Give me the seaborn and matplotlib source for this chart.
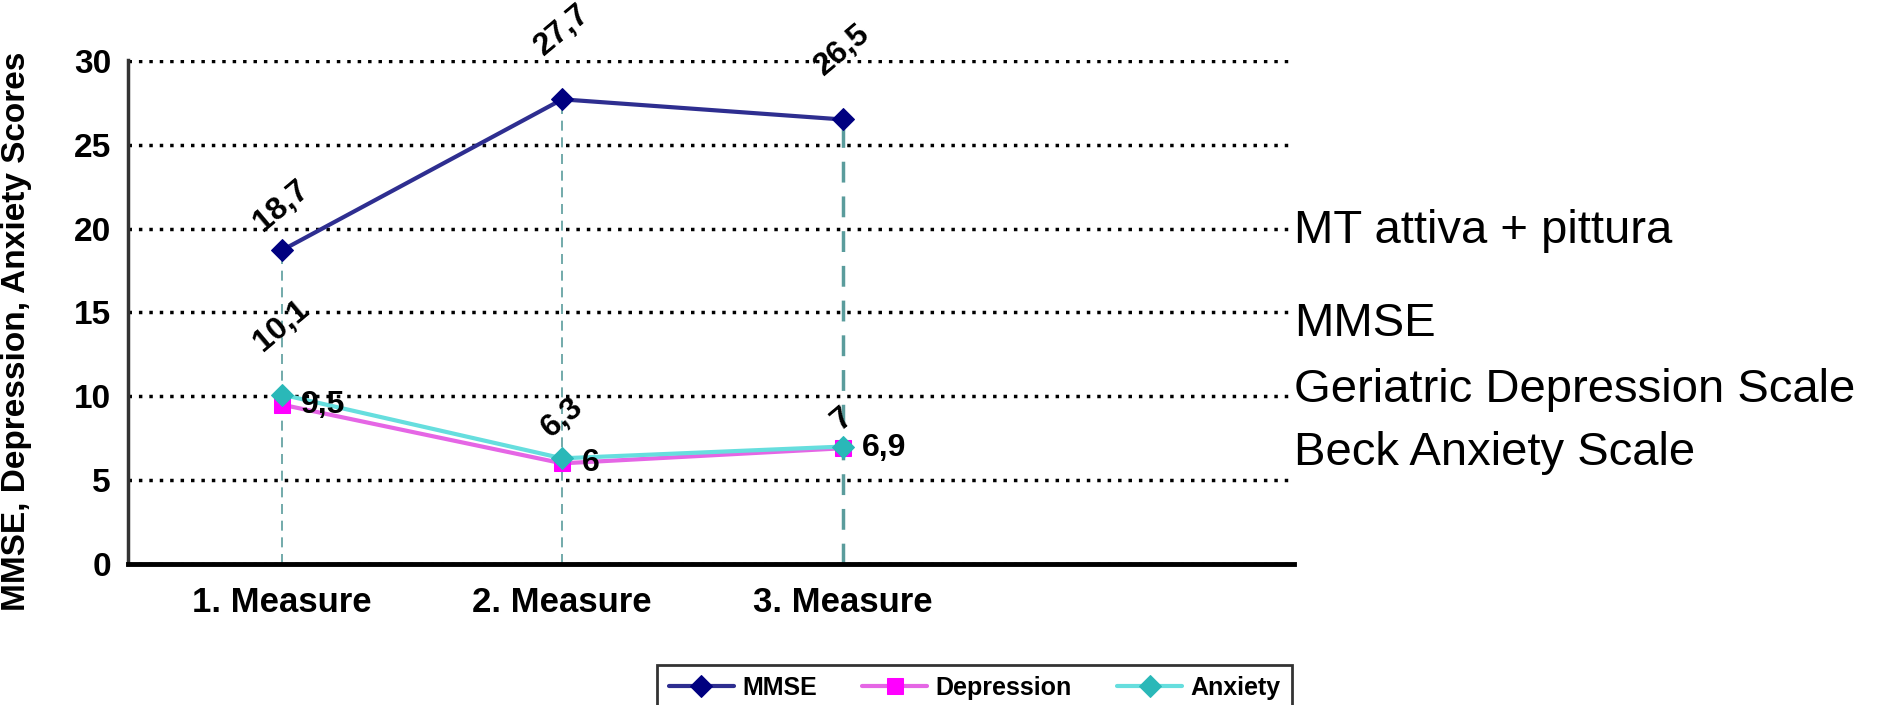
import numpy as np
import pandas as pd
import seaborn as sns
import matplotlib.pyplot as plt

measures = ['1. Measure', '2. Measure', '3. Measure']
mmse = [18.7, 27.7, 26.5]
depression = [9.5, 6, 6.9]
anxiety = [10.1, 6.3, 7]
mmse_labels = ['18,7', '27,7', '26,5']
depression_labels = ['9,5', '6', '6,9']
anxiety_labels = ['10,1', '6,3', '7']
side_lines = ['MT attiva + pittura', 'MMSE', 'Geriatric Depression Scale', 'Beck Anxiety Scale']

df = pd.DataFrame({
    'measure': measures * 3,
    'score': mmse + depression + anxiety,
    'scale': ['MMSE'] * 3 + ['Depression'] * 3 + ['Anxiety'] * 3,
})

sns.set_style('white')
plt.rcParams['font.family'] = ['Liberation Sans', 'DejaVu Sans']
plt.rcParams['text.color'] = 'black'
plt.rcParams['xtick.color'] = 'black'
plt.rcParams['ytick.color'] = 'black'

fig = plt.figure(figsize=(18.78, 7.05), dpi=100)
ax = fig.add_axes([0.068, 0.2, 0.621, 0.715])

# drop lines from the top point of each measure
x = np.arange(len(measures))
tops = np.max([mmse, depression, anxiety], axis=0)
ax.vlines(x, 0, tops, colors='#5a9c9c', linestyles=(0, (6, 4)), lw=[1.2, 1.2, 2.5], zorder=1)

palette = {'MMSE': '#2e2e90', 'Depression': '#e566e5', 'Anxiety': '#66dede'}
markers = {'MMSE': 'D', 'Depression': 's', 'Anxiety': 'D'}
sns.lineplot(data=df, x='measure', y='score', hue='scale', style='scale',
             palette=palette, markers=markers, dashes=False, sort=False,
             markersize=11, lw=3, ax=ax, zorder=3)

face = {'MMSE': '#000080', 'Depression': '#ff00ff', 'Anxiety': '#2ab8b8'}
for line, name in zip(ax.lines[:3], ['MMSE', 'Depression', 'Anxiety']):
    line.set_markerfacecolor(face[name])
    line.set_markeredgecolor(face[name])

handles, labels = ax.get_legend_handles_labels()
ax.get_legend().remove()
for h, name in zip(handles, labels):
    h.set_markerfacecolor(face[name])
    h.set_markeredgecolor(face[name])
fig.legend(handles, labels, loc='upper left', bbox_to_anchor=(0.35, 0.057), ncol=3,
           frameon=True, fancybox=False, edgecolor='black', handlelength=2.6,
           handletextpad=0.35, columnspacing=1.8, borderaxespad=0, borderpad=0.45,
           prop={'weight': 'bold', 'size': 18})
fig.legends[0].get_frame().set_linewidth(2)

# value labels
mmse_off = [32, 50, 50]
anx_off = [49, 29, 20]
for i in range(len(measures)):
    ax.annotate(mmse_labels[i], (i, mmse[i]), xytext=(0, mmse_off[i]), textcoords='offset points',
                rotation=40, ha='center', va='center', fontsize=23, fontweight='bold')
    ax.annotate(anxiety_labels[i], (i, anxiety[i]), xytext=(0, anx_off[i]), textcoords='offset points',
                rotation=40, ha='center', va='center', fontsize=23, fontweight='bold')
    ax.annotate(depression_labels[i], (i, depression[i]), xytext=(14, 0), textcoords='offset points',
                ha='left', va='center', fontsize=23, fontweight='bold')

ax.set_xlim(-0.55, 3.61)
ax.set_ylim(0, 30.05)
ax.set_yticks(range(0, 31, 5))
ax.yaxis.grid(True, linestyle=(0, (1, 2)), color='black', lw=2.5)
ax.set_axisbelow(True)
ax.set_xlabel('')
ax.set_ylabel('')
ax.tick_params(axis='y', length=8, width=2, color='#333333', pad=4, labelsize=24)
ax.tick_params(axis='x', length=0, pad=16, labelsize=25)
for t in ax.get_xticklabels() + ax.get_yticklabels():
    t.set_fontweight('bold')
sns.despine(ax=ax)
ax.spines['left'].set_color('#333333')
ax.spines['left'].set_linewidth(2.5)
ax.spines['bottom'].set_color('black')
ax.spines['bottom'].set_linewidth(3.5)

fig.text(0.009, 0.53, 'MMSE, Depression, Anxiety Scores', rotation=90, ha='center', va='center',
         fontsize=24, fontweight='bold')

side_y = [0.672, 0.541, 0.447, 0.358]
for txt, yy in zip(side_lines, side_y):
    fig.text(0.689, yy, txt, ha='left', va='center', fontsize=34)

fig.savefig('out.png', dpi=100)
